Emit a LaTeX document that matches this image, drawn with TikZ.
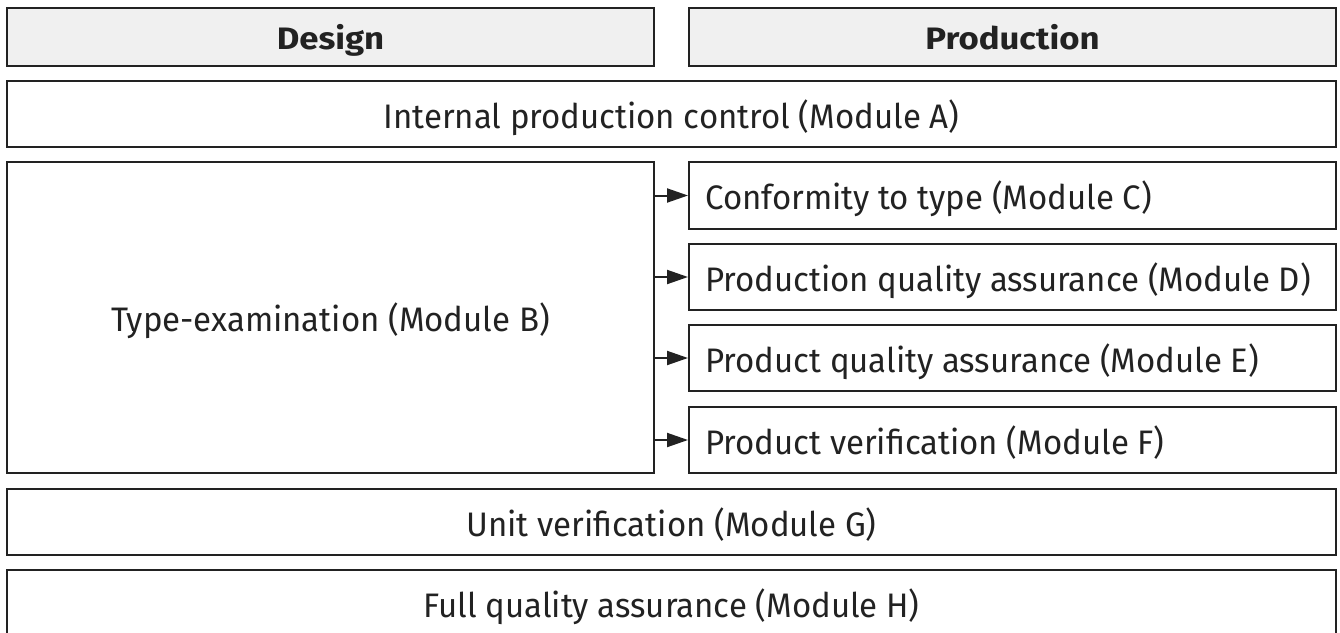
\documentclass[tikz,border=0pt]{standalone}
\usepackage{fontspec}
\setmainfont[FakeStretch=0.97]{Fira Sans}
\newfontfamily\hdrfont[FakeStretch=1.12]{Fira Sans}
\usetikzlibrary{arrows.meta}
\definecolor{hdrfill}{HTML}{F0F0F0}
\definecolor{ink}{HTML}{222222}
\begin{document}
\begin{tikzpicture}[x=1pt,y=-1pt,
  box/.style={draw=ink, line width=2pt, rectangle, inner sep=0pt, text=ink,
    text height=30pt, text depth=2pt, font=\fontsize{34}{38}\selectfont},
  hdr/.style={draw=ink, line width=2pt, rectangle, inner sep=0pt, text=ink, fill=hdrfill,
    text height=26pt, text depth=2pt, font=\hdrfont\fontsize{31}{34}\selectfont\bfseries},
  lbl/.style={anchor=west, inner sep=0pt, text=ink, text height=30pt, text depth=2pt,
    font=\fontsize{34}{38}\selectfont},
  arr/.style={draw=ink, line width=2pt, -{Triangle[length=21pt,width=14pt]}}]
\useasboundingbox (0,0) rectangle (1340,632);
\node[hdr, minimum width=647pt, minimum height=58pt] (design) at (330.5,37) {Design};
\node[hdr, minimum width=647pt, minimum height=58pt] (prod) at (1012.5,37) {Production};
\node[box, minimum width=1329pt, minimum height=66pt] (A) at (671.5,114) {Internal production control (Module A)};
\node[box, minimum width=647pt, minimum height=311pt] (B) at (330.5,317.5) {Type-examination (Module B)};
\node[box, minimum width=647pt, minimum height=67pt] (C) at (1012.5,195.5) {};
\node[box, minimum width=647pt, minimum height=66pt] (D) at (1012.5,277) {};
\node[box, minimum width=647pt, minimum height=66pt] (E) at (1012.5,358) {};
\node[box, minimum width=647pt, minimum height=66pt] (F) at (1012.5,440) {};
\node[lbl] (Ct) at ([xshift=17pt]C.west) {Conformity to type (Module C)};
\node[lbl] (Dt) at ([xshift=17pt]D.west) {Production quality assurance (Module D)};
\node[lbl] (Et) at ([xshift=17pt]E.west) {Product quality assurance (Module E)};
\node[lbl] (Ft) at ([xshift=17pt]F.west) {Product verification (Module F)};
\node[box, minimum width=1329pt, minimum height=66pt] (G) at (671.5,522) {Unit verification (Module G)};
\node[box, minimum width=1329pt, minimum height=66pt] (H) at (671.5,603) {Full quality assurance (Module H)};
\foreach \t in {C,D,E,F}{
  \draw[arr] (B.east |- \t.west) -- (\t.west);
}
\end{tikzpicture}
\end{document}
